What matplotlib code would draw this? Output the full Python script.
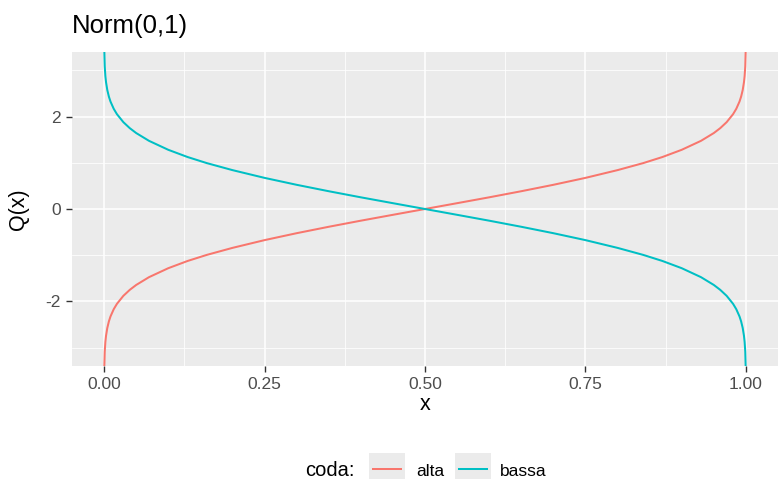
import numpy as np
import matplotlib
matplotlib.use("Agg")
import matplotlib.pyplot as plt
from matplotlib.patches import Rectangle

# quantili della normale standard
x = [0.0, 0.001, 0.002, 0.003, 0.005, 0.0075, 0.01, 0.015, 0.02, 0.03, 0.04,
     0.05, 0.07, 0.1, 0.13, 0.16, 0.2, 0.25, 0.3, 0.35, 0.4, 0.45, 0.5,
     0.55, 0.6, 0.65, 0.7, 0.75, 0.8, 0.84, 0.87, 0.9, 0.93, 0.95, 0.96,
     0.97, 0.98, 0.985, 0.99, 0.9925, 0.995, 0.997, 0.998, 0.999, 1.0]
alta = [-3.6, -3.090, -2.878, -2.748, -2.576, -2.432, -2.326, -2.170, -2.054,
        -1.881, -1.751, -1.645, -1.476, -1.282, -1.126, -0.994, -0.842,
        -0.674, -0.524, -0.385, -0.253, -0.126, 0.0,
        0.126, 0.253, 0.385, 0.524, 0.674, 0.842, 0.994, 1.126, 1.282,
        1.476, 1.645, 1.751, 1.881, 2.054, 2.170, 2.326, 2.432, 2.576,
        2.748, 2.878, 3.090, 3.6]
bassa = [3.6, 3.090, 2.878, 2.748, 2.576, 2.432, 2.326, 2.170, 2.054,
         1.881, 1.751, 1.645, 1.476, 1.282, 1.126, 0.994, 0.842,
         0.674, 0.524, 0.385, 0.253, 0.126, 0.0,
         -0.126, -0.253, -0.385, -0.524, -0.674, -0.842, -0.994, -1.126, -1.282,
         -1.476, -1.645, -1.751, -1.881, -2.054, -2.170, -2.326, -2.432, -2.576,
         -2.748, -2.878, -3.090, -3.6]

series = ["alta", "bassa"]
colori = {"alta": "#F8766D", "bassa": "#00BFC4"}
xticks = [0.0, 0.25, 0.5, 0.75, 1.0]
xticklabels = ["0.00", "0.25", "0.50", "0.75", "1.00"]
yticks = [-2, 0, 2]
yticklabels = ["-2", "0", "2"]

W, H = 778, 479
plt.rcParams["font.family"] = ["Liberation Sans", "DejaVu Sans"]
plt.rcParams["axes.unicode_minus"] = False
fig = plt.figure(figsize=(W / 100, H / 100), dpi=100)

# pannello in pixel
L, R, T, B = 72, 778, 52, 366
ax = fig.add_axes([L / W, 1 - B / H, (R - L) / W, (B - T) / H])
ax.set_facecolor("#EBEBEB")
for s in ax.spines.values():
    s.set_visible(False)

ax.set_xlim(-0.05, 1.05)
ax.set_ylim(-3.40, 3.40)
ax.set_xticks(xticks)
ax.set_xticklabels(xticklabels)
ax.set_yticks(yticks)
ax.set_yticklabels(yticklabels)
ax.set_xticks([0.125, 0.375, 0.625, 0.875], minor=True)
ax.set_yticks([-3, -1, 1, 3], minor=True)
ax.grid(which="major", color="white", linewidth=1.1)
ax.grid(which="minor", color="white", linewidth=0.55)
ax.set_axisbelow(True)
ax.tick_params(which="major", length=4, width=1.0, color="#333333",
               labelcolor="#4D4D4D", labelsize=12.5, pad=4)
ax.tick_params(which="minor", length=0)

ax.plot(x, alta, color=colori["alta"], linewidth=1.45, clip_on=True)
ax.plot(x, bassa, color=colori["bassa"], linewidth=1.45, clip_on=True)

# titolo ed etichette degli assi
fig.text(L / W, 1 - 33 / H, "Norm(0,1)", fontsize=18.5, ha="left", va="baseline")
fig.text((L + R) / 2 / W, 1 - 410 / H, "x", fontsize=15.5, ha="center", va="baseline")
fig.text(18 / W, 1 - 209 / H, "Q(x)", fontsize=15.5, rotation=90, ha="center", va="center")

# legenda in basso
ov = fig.add_axes([0, 0, 1, 1], zorder=-1)
ov.set_xlim(0, W)
ov.set_ylim(H, 0)
ov.axis("off")
ov.text(305, 476, "coda:", fontsize=14.5, ha="left", va="baseline")
chiavi = [(369, 416), (455, 500)]
for nome, (kx, tx) in zip(series, chiavi):
    ov.add_patch(Rectangle((kx, 453), 36, 27, facecolor="#EBEBEB", edgecolor="none"))
    ov.plot([kx + 4, kx + 32], [469, 469], color=colori[nome], linewidth=1.45)
    ov.text(tx, 476, nome, fontsize=12.5, ha="left", va="baseline")

fig.savefig("out.png", dpi=100)
